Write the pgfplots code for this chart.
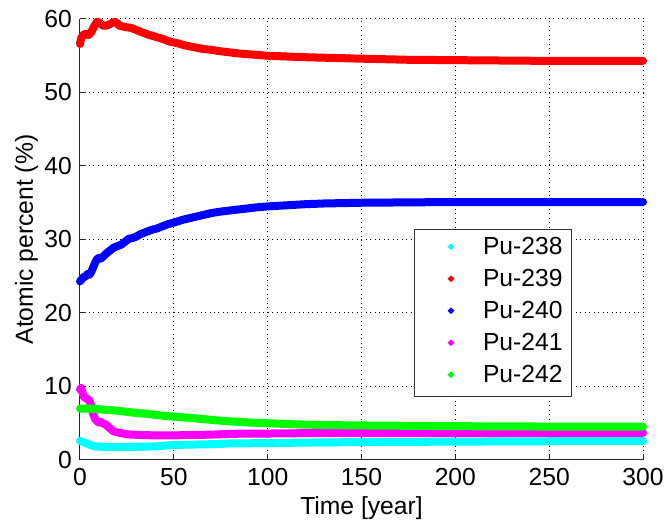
\documentclass[border=0pt]{standalone}
\usepackage{fontspec}
\setmainfont{Liberation Sans}
\usepackage{pgfplots}
\pgfplotsset{compat=1.18}
\definecolor{mcyan}{rgb}{0,1,1}
\definecolor{mred}{rgb}{1,0,0}
\definecolor{mblue}{rgb}{0,0,1}
\definecolor{mmag}{rgb}{1,0,1}
\definecolor{mgreen}{rgb}{0,1,0}
\newcommand{\lblfont}{\fontsize{18.5pt}{22pt}\selectfont}
\begin{document}
\begin{tikzpicture}
\begin{axis}[
  scale only axis,
  width=422.25pt, height=330.75pt,
  xmin=0, xmax=300, ymin=0, ymax=60,
  xtick={0,50,...,300}, ytick={0,10,...,60},
  axis x line*=bottom, axis y line*=left,
  axis line style={-, line width=0.75pt, black!85},
  tick style={line width=0.75pt, black!85},
  tick align=inside, major tick length=4.5pt,
  grid=major,
  major grid style={line width=0.75pt, black, dash pattern=on 0.75pt off 2.6pt},
  /pgf/number format/assume math mode=true,
  tick label style={font=\lblfont, inner sep=0pt},
  every x tick label/.append style={anchor=base, yshift=-19.5pt},
  every y tick label/.append style={anchor=east, xshift=-6pt},
  xlabel={Time [year]},
  ylabel={Atomic percent (\%)},
  label style={font=\lblfont, inner sep=0pt},
  xlabel style={at={([yshift=-41.25pt]axis description cs:0.5,0)}, anchor=base},
  ylabel style={at={([xshift=-35.25pt]axis description cs:0,0.5)}, anchor=base},
  clip=false,
  every axis plot/.append style={line width=6pt, line cap=round, line join=round},
  legend style={at={(0.593,0.524)}, anchor=north west, draw=black!80, line width=0.75pt,
    inner xsep=0pt, inner ysep=6pt, row sep=7pt, font=\lblfont,
    nodes={inner sep=0pt, text height=13pt, text depth=4pt, text width=66.25pt, align=left}},
  legend cell align=left,
  legend image code/.code={%
    \path[draw=none, fill=none] (0pt,-2pt) rectangle (51.5pt,2pt);
    \path[draw=none, fill] (25pt,1.5pt) -- (27.5pt,4pt) -- (30pt,1.5pt) -- (27.5pt,-1pt) -- cycle;},
]
\addplot[mcyan] coordinates {(0,2.6)(2,2.4)(4,2.2)(6,2.0)(8,1.85)(12,1.8)(20,1.8)(30,1.8)(40,1.85)(45,1.95)(50,2.05)(60,2.1)(70,2.15)(80,2.25)(100,2.3)(130,2.4)(160,2.45)(200,2.5)(250,2.55)(300,2.58)};
\addlegendentry{Pu-238}
\addplot[mred] coordinates {(0,56.6)(0.5,57.3)(1.5,57.8)(3,58.0)(4.5,57.8)(6,58.2)(7.5,59.0)(9,59.6)(10.5,59.5)(12,59.1)(14,59.1)(16,59.3)(18,59.6)(19.5,59.5)(21,59.1)(24,58.9)(27,58.8)(30,58.5)(33,58.2)(36,57.9)(40,57.6)(44,57.3)(48,56.9)(52,56.7)(56,56.4)(60,56.2)(65,55.95)(70,55.8)(75,55.6)(80,55.45)(85,55.3)(90,55.2)(95,55.1)(100,55.0)(110,54.9)(120,54.8)(135,54.7)(150,54.6)(175,54.45)(200,54.4)(250,54.3)(300,54.3)};
\addlegendentry{Pu-239}
\addplot[mblue] coordinates {(0,24.3)(1,24.6)(2,24.9)(3,25.0)(4,25.3)(5,25.2)(6,25.6)(7,26.2)(8,26.8)(9,27.3)(10,27.5)(11,27.4)(12,27.6)(14,28.1)(16,28.5)(18,28.9)(20,29.1)(22,29.3)(24,29.7)(26,30.1)(28,30.2)(30,30.4)(32,30.7)(35,31.0)(38,31.3)(41,31.5)(44,31.8)(47,32.1)(50,32.3)(55,32.7)(60,33.0)(65,33.3)(70,33.6)(75,33.8)(80,33.95)(85,34.1)(90,34.25)(95,34.4)(100,34.5)(110,34.65)(120,34.8)(130,34.9)(150,35.0)(175,35.05)(200,35.1)(250,35.1)(300,35.1)};
\addlegendentry{Pu-240}
\addplot[mmag] coordinates {(0,9.6)(0.5,9.8)(1,9.4)(2,8.6)(3,8.4)(4,8.3)(5,8.1)(6,7.3)(7,6.3)(8,5.6)(9,5.3)(10,5.1)(11,5.2)(12,5.0)(13,4.9)(14,4.8)(15,4.5)(16,4.3)(17,4.05)(18,3.9)(20,3.75)(22,3.65)(25,3.5)(28,3.45)(32,3.4)(40,3.35)(50,3.35)(60,3.4)(70,3.45)(80,3.55)(90,3.6)(100,3.6)(120,3.65)(150,3.65)(200,3.65)(250,3.7)(300,3.7)};
\addlegendentry{Pu-241}
\addplot[mgreen] coordinates {(0,7.0)(5,7.0)(10,6.9)(15,6.8)(20,6.7)(25,6.55)(30,6.4)(35,6.3)(40,6.15)(45,6.0)(50,5.9)(60,5.7)(70,5.45)(80,5.25)(90,5.1)(100,5.0)(115,4.85)(130,4.75)(150,4.7)(175,4.65)(200,4.6)(250,4.55)(300,4.53)};
\addlegendentry{Pu-242}
\end{axis}
\pgfresetboundingbox
\path[use as bounding box] (-60pt,-47.25pt) rectangle (440.25pt,345pt);
\end{tikzpicture}
\end{document}
